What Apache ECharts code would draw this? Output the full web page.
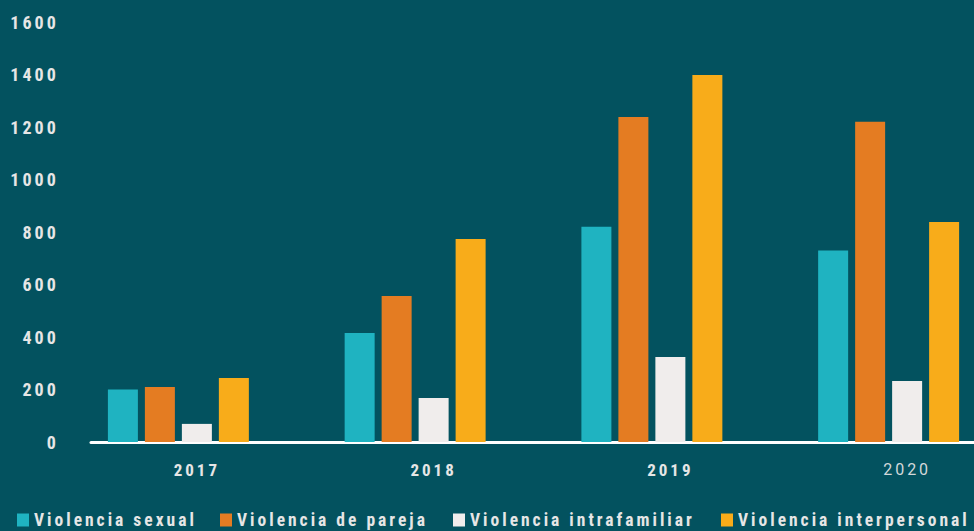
<!DOCTYPE html>
<html>
<head>
<meta charset="utf-8">
<script src="https://cdn.jsdelivr.net/npm/echarts@6/dist/echarts.min.js"></script>
<style>
  html, body { margin: 0; padding: 0; background: #03525f; }
  #chart { width: 974px; height: 531px; }
  #chart svg text { letter-spacing: 3px; }
</style>
</head>
<body>
<div id="chart"></div>
<script>
const years = ['2017', '2018', '2019', '2020']
const seriesNames = ['Violencia sexual', 'Violencia de pareja', 'Violencia intrafamiliar', 'Violencia interpersonal']
const sexual = [200, 415, 820, 730]
const pareja = [210, 556, 1238, 1220]
const intrafamiliar = [69, 168, 324, 232]
const interpersonal = [244, 773, 1398, 838]
const colors = ['#1fb3c1', '#e47c22', '#f0edec', '#f8ac1a']

const font = '"Roboto Condensed", Roboto, sans-serif'
const chart = echarts.init(document.getElementById('chart'), null, { renderer: 'svg' })

const values = [sexual, pareja, intrafamiliar, interpersonal]
const series = values.map((d, i) => ({
  name: seriesNames[i],
  type: 'bar',
  data: d,
  barWidth: 30,
  barGap: '23.3%',
  itemStyle: { color: colors[i] },
  silent: true
}))
// empty slot so the group sits left of the label
series.push({ name: 'pad', type: 'bar', data: [], barWidth: 30, barGap: '23.3%' })

const legendLeft = [17, 220, 453, 721]
const legends = seriesNames.map((n, i) => ({
  data: [n],
  left: legendLeft[i],
  top: 511,
  icon: 'rect',
  itemWidth: 12,
  itemHeight: 13,
  padding: 0,
  textStyle: { color: '#e6e6e6', fontFamily: font, fontWeight: 'bold', fontSize: 17.5 },
  selectedMode: false
}))

const option = {
  backgroundColor: '#03525f',
  animation: false,
  legend: legends,
  grid: [
    { left: 78.5, width: 947, top: 22, bottom: 89, outerBoundsMode: 'none' },
    { left: 91, right: 0, top: 22, bottom: 89, outerBoundsMode: 'none' }
  ],
  xAxis: [
    {
      type: 'category',
      gridIndex: 0,
      data: years.map(y => y === '2020'
        ? { value: y, textStyle: { fontFamily: 'Roboto, sans-serif', fontWeight: 'normal', fontSize: 16, color: '#d4d8da' } }
        : y),
      axisLine: { show: false },
      axisTick: { show: false },
      axisLabel: {
        interval: 0,
        margin: 19,
        color: '#e6e6e6',
        fontFamily: font,
        fontWeight: 'bold',
        fontSize: 17
      }
    },
    {
      type: 'value',
      gridIndex: 1,
      min: 0,
      max: 1,
      axisLine: { show: true, lineStyle: { color: '#ffffff', width: 3 } },
      axisTick: { show: false },
      axisLabel: { show: false },
      splitLine: { show: false }
    }
  ],
  yAxis: [
    {
      type: 'value',
      gridIndex: 0,
      min: 0,
      max: 1600,
      interval: 200,
      axisLine: { show: false },
      axisTick: { show: false },
      splitLine: { show: false },
      axisLabel: {
        margin: 19.75,
        color: '#e6e6e6',
        fontFamily: font,
        fontWeight: 'bold',
        fontSize: 18,
        formatter: v => String(v)
      }
    },
    { type: 'value', gridIndex: 1, show: false }
  ],
  series: series
}
chart.setOption(option)
</script>
</body>
</html>
